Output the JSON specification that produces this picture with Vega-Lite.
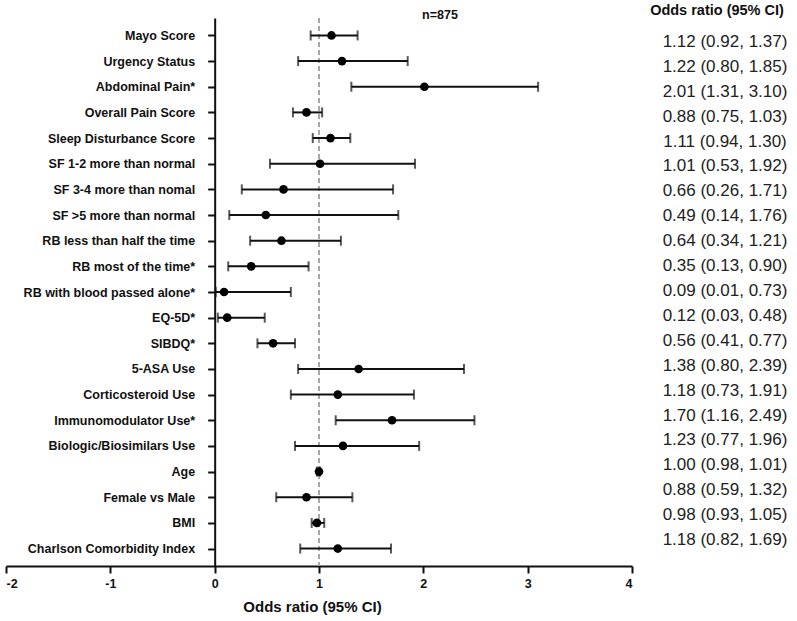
{
  "$schema": "https://vega.github.io/schema/vega-lite/v6.json",
  "padding": {"left": 5, "top": 2, "right": 0, "bottom": 0},
  "background": "white",
  "config": {
    "view": {"stroke": null},
    "font": "Liberation Sans",
    "axis": {"grid": false}
  },
  "data": {
    "values": [
      {"label": "Mayo Score", "or": 1.12, "lo": 0.92, "hi": 1.37},
      {"label": "Urgency Status", "or": 1.22, "lo": 0.80, "hi": 1.85},
      {"label": "Abdominal Pain*", "or": 2.01, "lo": 1.31, "hi": 3.10},
      {"label": "Overall Pain Score", "or": 0.88, "lo": 0.75, "hi": 1.03},
      {"label": "Sleep Disturbance Score", "or": 1.11, "lo": 0.94, "hi": 1.30},
      {"label": "SF 1-2 more than normal", "or": 1.01, "lo": 0.53, "hi": 1.92},
      {"label": "SF 3-4 more than nomal", "or": 0.66, "lo": 0.26, "hi": 1.71},
      {"label": "SF >5 more than normal", "or": 0.49, "lo": 0.14, "hi": 1.76},
      {"label": "RB less than half the time", "or": 0.64, "lo": 0.34, "hi": 1.21},
      {"label": "RB most of the time*", "or": 0.35, "lo": 0.13, "hi": 0.90},
      {"label": "RB with blood passed alone*", "or": 0.09, "lo": 0.01, "hi": 0.73},
      {"label": "EQ-5D*", "or": 0.12, "lo": 0.03, "hi": 0.48},
      {"label": "SIBDQ*", "or": 0.56, "lo": 0.41, "hi": 0.77},
      {"label": "5-ASA Use", "or": 1.38, "lo": 0.80, "hi": 2.39},
      {"label": "Corticosteroid Use", "or": 1.18, "lo": 0.73, "hi": 1.91},
      {"label": "Immunomodulator Use*", "or": 1.70, "lo": 1.16, "hi": 2.49},
      {"label": "Biologic/Biosimilars Use", "or": 1.23, "lo": 0.77, "hi": 1.96},
      {"label": "Age", "or": 1.00, "lo": 0.98, "hi": 1.01},
      {"label": "Female vs Male", "or": 0.88, "lo": 0.59, "hi": 1.32},
      {"label": "BMI", "or": 0.98, "lo": 0.93, "hi": 1.05},
      {"label": "Charlson Comorbidity Index", "or": 1.18, "lo": 0.82, "hi": 1.69}
    ]
  },
  "hconcat": [
    {
      "width": 626,
      "height": 548,
      "title": {"text": "n=875", "fontSize": 12.5, "fontWeight": "bold", "anchor": "middle", "dx": 121, "offset": -4, "color": "#111"},
      "layer": [
        {
          "mark": {"type": "rule", "color": "#a8a8a8", "strokeWidth": 2, "strokeDash": [5, 3]},
          "encoding": {"x": {"datum": 1, "type": "quantitative"}}
        },
        {
          "mark": {"type": "rule", "color": "#111", "strokeWidth": 2},
          "encoding": {
            "y": {"field": "label", "type": "nominal", "sort": null,
                  "scale": {"type": "point", "padding": 0.68},
                  "axis": {"title": null, "offset": -208.67, "domainColor": "#111", "domainWidth": 2, "tickColor": "#111", "tickWidth": 2, "tickSize": 7, "labelPadding": 13, "labelFont": "Liberation Sans", "labelFontSize": 12.5, "labelFontWeight": "bold", "labelColor": "#111", "labelLimit": 300}},
            "x": {"field": "lo", "type": "quantitative",
                  "scale": {"domain": [-2, 4], "nice": false, "zero": false},
                  "axis": {"title": "Odds ratio (95% CI)", "titleX": 306, "values": [-2, -1, 0, 1, 2, 3, 4], "labelExpr": "'' + datum.value", "domainColor": "#111", "domainWidth": 2, "tickColor": "#111", "tickWidth": 2, "tickSize": 7, "labelPadding": 4, "labelFontSize": 12.5, "labelFontWeight": "bold", "labelColor": "#111", "titleFontSize": 15, "titleFontWeight": "bold", "titleColor": "#111", "titlePadding": 10}},
            "x2": {"field": "hi"}
          }
        },
        {
          "mark": {"type": "tick", "color": "#111", "thickness": 2, "size": 10, "orient": "vertical"},
          "encoding": {
            "y": {"field": "label", "type": "nominal", "sort": null},
            "x": {"field": "lo", "type": "quantitative"}
          }
        },
        {
          "mark": {"type": "tick", "color": "#111", "thickness": 2, "size": 10, "orient": "vertical"},
          "encoding": {
            "y": {"field": "label", "type": "nominal", "sort": null},
            "x": {"field": "hi", "type": "quantitative"}
          }
        },
        {
          "mark": {"type": "circle", "color": "#000", "opacity": 1, "size": 75},
          "encoding": {
            "y": {"field": "label", "type": "nominal", "sort": null},
            "x": {"field": "or", "type": "quantitative"}
          }
        }
      ]
    },
    {
      "width": 140,
      "height": 548,
      "title": {"text": "Odds ratio (95% CI)", "fontSize": 14.5, "fontWeight": "bold", "anchor": "middle", "offset": 0, "color": "#111"},
      "transform": [
        {"calculate": "format(datum.or, '.2f') + ' (' + format(datum.lo, '.2f') + ', ' + format(datum.hi, '.2f') + ')'", "as": "txt"}
      ],
      "mark": {"type": "text", "fontSize": 17, "color": "#222", "align": "center", "baseline": "middle", "dy": -1, "dx": 8},
      "encoding": {
        "y": {"field": "label", "type": "nominal", "sort": null, "scale": {"type": "point", "padding": 1.4}, "axis": null},
        "text": {"field": "txt"}
      }
    }
  ],
  "spacing": 14
}
